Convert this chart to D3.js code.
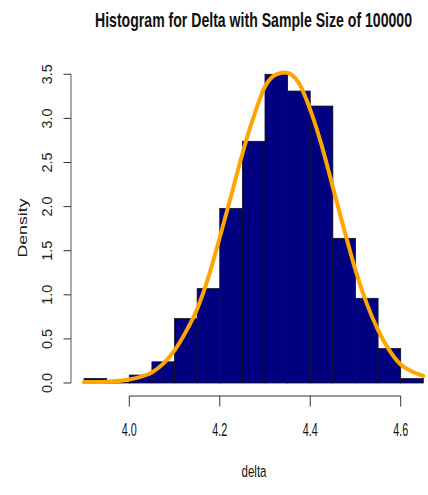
<!DOCTYPE html>
<html>
<head>
<meta charset="utf-8">
<script src="https://cdn.jsdelivr.net/npm/d3@7"></script>
<style>
  body { margin: 0; background: #fff; }
  text { font-family: "Liberation Sans", Arial, sans-serif; fill: #111; }
</style>
</head>
<body>
<div id="viz"></div>
<script>
// histogram of delta, bins of 0.05 starting at 3.90
var binStarts = [3.90, 3.95, 4.00, 4.05, 4.10, 4.15, 4.20, 4.25, 4.30, 4.35, 4.40, 4.45, 4.50, 4.55, 4.60];
var binDensity = [0.05, 0.01, 0.09, 0.24, 0.73, 1.07, 1.98, 2.74, 3.50, 3.31, 3.14, 1.64, 0.96, 0.39, 0.05];
var binWidth = 0.05;

// density curve
var curveX = [3.90, 3.95, 4.00, 4.025, 4.05, 4.075, 4.10, 4.125, 4.15, 4.175, 4.20, 4.225, 4.25, 4.275,
              4.30, 4.325, 4.345, 4.36, 4.375, 4.40, 4.425, 4.45, 4.475, 4.50, 4.525, 4.55, 4.575,
              4.60, 4.625, 4.65];
var curveY = [0.01, 0.015, 0.04, 0.07, 0.12, 0.22, 0.37, 0.58, 0.84, 1.20, 1.65, 2.12, 2.60, 3.02,
              3.36, 3.50, 3.52, 3.49, 3.40, 3.10, 2.70, 2.22, 1.74, 1.28, 0.90, 0.60, 0.37,
              0.21, 0.13, 0.08];

var xTicks = [4.0, 4.2, 4.4, 4.6];
var yTicks = [0.0, 0.5, 1.0, 1.5, 2.0, 2.5, 3.0, 3.5];

var title = "Histogram for Delta with Sample Size of 100000";
var xLabel = "delta";
var yLabel = "Density";

var width = 428, height = 495;

var x = d3.scaleLinear().domain([4.0, 4.6]).range([129.3, 400.7]);
var y = d3.scaleLinear().domain([0, 3.5]).range([383, 74.3]);

var svg = d3.select("#viz").append("svg")
    .attr("width", width)
    .attr("height", height);

// bars
svg.append("g").selectAll("rect")
    .data(binStarts)
    .enter().append("rect")
    .attr("x", function(d) { return x(d); })
    .attr("y", function(d, i) { return y(binDensity[i]); })
    .attr("width", function(d) { return x(d + binWidth) - x(d); })
    .attr("height", function(d, i) { return y(0) - y(binDensity[i]); })
    .attr("fill", "#000080")
    .attr("stroke", "#101020")
    .attr("stroke-width", 0.8);

// density curve
var pts = curveX.map(function(d, i) { return [d, curveY[i]]; });
svg.append("path")
    .datum(pts)
    .attr("fill", "none")
    .attr("stroke", "#FFA500")
    .attr("stroke-width", 4)
    .attr("stroke-linecap", "round")
    .attr("d", d3.line()
        .x(function(d) { return x(d[0]); })
        .y(function(d) { return y(d[1]); })
        .curve(d3.curveMonotoneX));

// x axis (R style: line spans first to last tick)
var xAxis = svg.append("g").attr("transform", "translate(0,396)");
xAxis.append("line")
    .attr("x1", x(xTicks[0])).attr("x2", x(xTicks[xTicks.length - 1]))
    .attr("stroke", "#333");
xAxis.selectAll("line.tick").data(xTicks).enter().append("line")
    .attr("class", "tick")
    .attr("x1", function(d) { return x(d); }).attr("x2", function(d) { return x(d); })
    .attr("y1", 0).attr("y2", 10.5)
    .attr("stroke", "#333");
// the picture is squeezed sideways, so text is drawn small and stretched up
xAxis.selectAll("text").data(xTicks).enter().append("text")
    .attr("transform", function(d) { return "translate(" + x(d) + ",40) scale(1,1.75)"; })
    .attr("text-anchor", "middle")
    .attr("font-size", 11)
    .attr("textLength", 15)
    .attr("lengthAdjust", "spacingAndGlyphs")
    .text(function(d) { return d.toFixed(1); });

// y axis
var yAxis = svg.append("g").attr("transform", "translate(71,0)");
yAxis.append("line")
    .attr("y1", y(yTicks[0])).attr("y2", y(yTicks[yTicks.length - 1]))
    .attr("stroke", "#555");
yAxis.selectAll("line.tick").data(yTicks).enter().append("line")
    .attr("class", "tick")
    .attr("y1", function(d) { return y(d); }).attr("y2", function(d) { return y(d); })
    .attr("x1", 0).attr("x2", -7.5)
    .attr("stroke", "#333");
yAxis.selectAll("text").data(yTicks).enter().append("text")
    .attr("transform", function(d) { return "translate(-19.5," + y(d) + ") rotate(-90)"; })
    .attr("text-anchor", "middle")
    .attr("font-size", 14)
    .attr("textLength", 20)
    .attr("lengthAdjust", "spacingAndGlyphs")
    .style("fill", "#222")
    .text(function(d) { return d.toFixed(1); });

// labels
svg.append("text")
    .attr("transform", "translate(253.5,26.5) scale(1,1.38)")
    .attr("text-anchor", "middle")
    .attr("font-size", 14.1)
    .attr("font-weight", "bold")
    .attr("textLength", 317)
    .attr("lengthAdjust", "spacingAndGlyphs")
    .text(title);

svg.append("text")
    .attr("transform", "translate(254,477) scale(1,1.5)")
    .attr("text-anchor", "middle")
    .attr("font-size", 11.5)
    .attr("textLength", 25)
    .attr("lengthAdjust", "spacingAndGlyphs")
    .text(xLabel);

svg.append("text")
    .attr("transform", "translate(27,228) rotate(-90)")
    .attr("text-anchor", "middle")
    .attr("font-size", 13)
    .attr("textLength", 59)
    .attr("lengthAdjust", "spacingAndGlyphs")
    .style("fill", "#222")
    .text(yLabel);
</script>
</body>
</html>
